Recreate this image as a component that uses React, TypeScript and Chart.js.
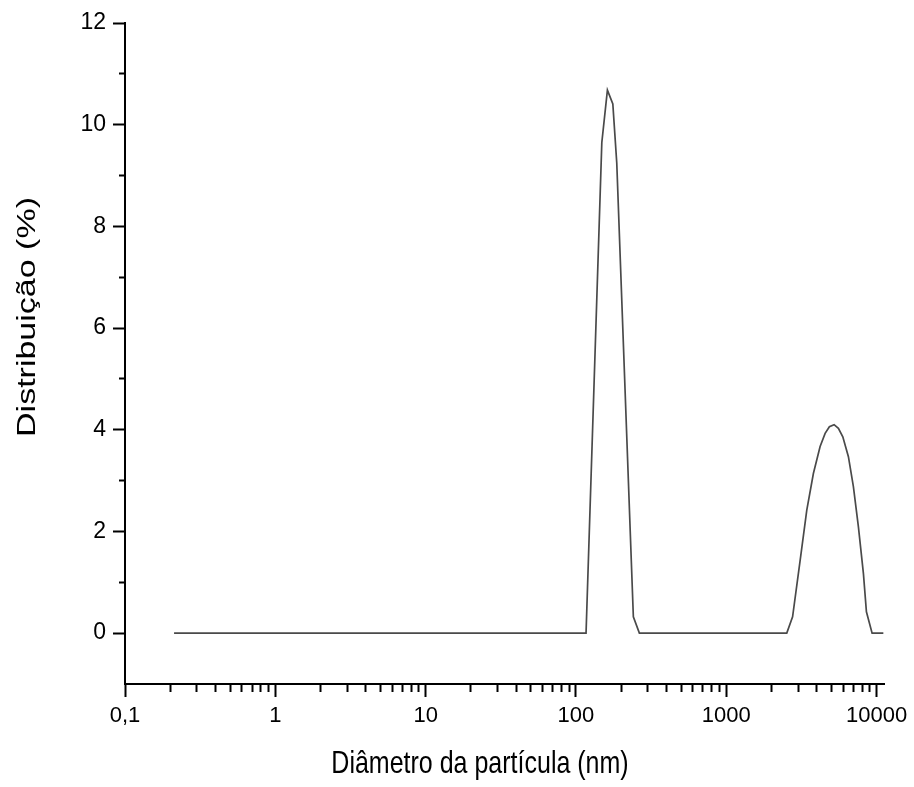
import React, { useEffect, useRef } from "react";
import { Chart, registerables } from "chart.js";

Chart.register(...registerables);

// Particle size distribution
const diameters = [0.212, 116.7, 148.6, 161.9, 175.9, 186.8, 240.9, 264.1, 2526, 2761, 3103, 3432, 3797, 4209, 4545, 4853, 5215, 5570, 5959, 6493, 7008, 7568, 8172, 8556, 9333, 11090];
const distribution = [0, 0, 9.65, 10.68, 10.41, 9.25, 0.32, 0, 0, 0.32, 1.44, 2.42, 3.14, 3.67, 3.93, 4.06, 4.1, 4.03, 3.86, 3.47, 2.88, 2.09, 1.17, 0.42, 0, 0];

const xMajorTicks = [0.1, 1, 10, 100, 1000, 10000];
const xTickLabels = ["0,1", "1", "10", "100", "1000", "10000"];
const xMinorMultipliers = [2, 3, 4, 5, 6, 7, 8, 9];
const yTicks = [0, 1, 2, 3, 4, 5, 6, 7, 8, 9, 10, 11, 12];
const yLabelledTicks = [0, 2, 4, 6, 8, 10, 12];

const xTitle = "Diâmetro da partícula (nm)";
const yTitle = "Distribuição (%)";

const FONT = "'Liberation Sans', Arial, Helvetica, sans-serif";

const isXMajor = (v: number) => xMajorTicks.some((m) => Math.abs(v - m) / m < 1e-6);

const titlePlugin = {
  id: "axisTitles",
  afterDraw(chart: any) {
    const ctx = chart.ctx;
    ctx.save();
    ctx.fillStyle = "#000";
    ctx.textAlign = "center";
    ctx.textBaseline = "middle";
    ctx.font = `25px ${FONT}`;
    // x title
    ctx.save();
    ctx.translate(480, 765);
    ctx.scale(1, 1.22);
    ctx.fillText(xTitle, 0, 0);
    ctx.restore();
    // y title
    ctx.save();
    ctx.translate(28, 317);
    ctx.rotate(-Math.PI / 2);
    ctx.scale(1.36, 1);
    ctx.fillText(yTitle, 0, 0);
    ctx.restore();
    ctx.restore();
  },
};

export default function App() {
  const ref = useRef<HTMLCanvasElement | null>(null);

  useEffect(() => {
    document.body.style.margin = "0";
    if (!ref.current) return;
    const xTickValues: number[] = [];
    xMajorTicks.forEach((m, i) => {
      xTickValues.push(m);
      if (i < xMajorTicks.length - 1) xMinorMultipliers.forEach((k) => xTickValues.push(m * k));
    });
    xTickValues.sort((a, b) => a - b);

    const chart = new Chart(ref.current, {
      type: "line",
      data: {
        datasets: [
          {
            data: diameters.map((d, i) => ({ x: d, y: distribution[i] })),
            borderColor: "#4a4a4a",
            borderWidth: 1.7,
            pointRadius: 0,
            tension: 0,
            fill: false,
          },
        ],
      },
      options: {
        responsive: false,
        animation: false,
        layout: { padding: { top: 23, right: 30, left: 0, bottom: 0 } },
        plugins: { legend: { display: false }, tooltip: { enabled: false }, title: { display: false } },
        scales: {
          x: {
            type: "logarithmic",
            min: 0.1,
            max: 11200,
            afterBuildTicks(scale: any) {
              scale.ticks = xTickValues.map((v) => ({ value: v }));
            },
            afterFit(scale: any) {
              scale.height = 103;
            },
            border: { display: true, color: "#000", width: 2 },
            grid: {
              display: true,
              drawOnChartArea: false,
              drawTicks: true,
              tickLength: 13,
              tickColor: "#000",
              tickWidth: 2,
              tickBorderDash: (c: any) => (c.tick && isXMajor(c.tick.value) ? [] : [7, 100]),
            },
            ticks: {
              autoSkip: false,
              maxRotation: 0,
              minRotation: 0,
              padding: 6,
              color: "#000",
              font: { family: FONT, size: 22 },
              callback: (v: any) => {
                const idx = xMajorTicks.findIndex((m) => Math.abs(Number(v) - m) / m < 1e-6);
                return idx >= 0 ? xTickLabels[idx] : "";
              },
            },
          },
          y: {
            type: "linear",
            min: -1,
            max: 12,
            afterBuildTicks(scale: any) {
              scale.ticks = yTicks.map((v) => ({ value: v }));
            },
            afterFit(scale: any) {
              scale.width = 125;
            },
            border: { display: true, color: "#000", width: 2 },
            grid: {
              display: true,
              drawOnChartArea: false,
              drawTicks: true,
              tickLength: 12,
              tickColor: "#000",
              tickWidth: 2,
              tickBorderDash: (c: any) => (c.tick && yLabelledTicks.includes(c.tick.value) ? [] : [0, 6, 10, 100]),
            },
            ticks: {
              autoSkip: false,
              padding: 7,
              color: "#000",
              font: { family: FONT, size: 23 },
              callback: (v: any) => (yLabelledTicks.includes(Number(v)) ? String(v) : ""),
            },
          },
        },
      },
      plugins: [titlePlugin],
    });
    return () => chart.destroy();
  }, []);

  return <canvas ref={ref} width={914} height={787} style={{ display: "block", width: 914, height: 787 }} />;
}
